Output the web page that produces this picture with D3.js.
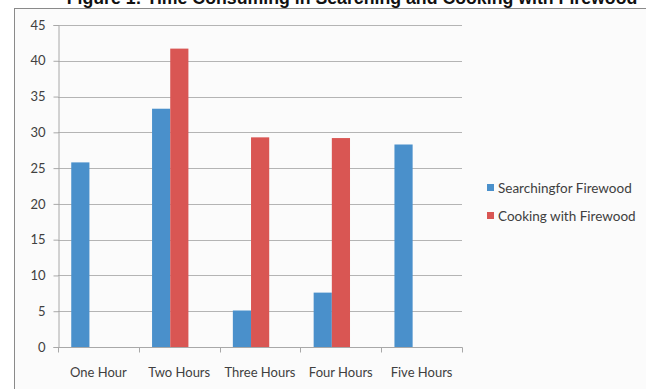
<!DOCTYPE html>
<html>
<head>
<meta charset="utf-8">
<script src="https://cdn.jsdelivr.net/npm/d3@7"></script>
<style>
  html, body { margin: 0; padding: 0; background: #ffffff; }
  svg { display: block; }
</style>
</head>
<body>
<svg id="chart" width="646" height="389"></svg>
<script>
// Hours spent per day on firewood tasks (percent of households)
const categories = ["One Hour", "Two Hours", "Three Hours", "Four Hours", "Five Hours"];
const seriesNames = ["Searchingfor Firewood", "Cooking with Firewood"];
const searching = [25.8, 33.3, 5.1, 7.6, 28.3];
const cooking = [null, 41.7, 29.3, 29.2, null];
const yTicks = [0, 5, 10, 15, 20, 25, 30, 35, 40, 45];
const colors = ["#4a90cb", "#d95653"];

const svg = d3.select("#chart");
const font = "Lato, 'Open Sans', sans-serif";

// chart frame
svg.append("rect")
  .attr("x", 14.5).attr("y", 8.5)
  .attr("width", 700).attr("height", 400)
  .attr("fill", "#fbfbfb")
  .attr("stroke", "#8a8a8a").attr("stroke-width", 1);

// title (sits above the frame, partly off the top edge)
const title = svg.append("text")
  .attr("x", 352).attr("y", 3.5)
  .attr("text-anchor", "middle")
  .attr("font-family", "'Liberation Sans', Arial, sans-serif")
  .attr("font-weight", "bold")
  .attr("font-size", 15)
  .attr("fill", "#111")
  .text("Figure 1: Time Consuming in Searching and Cooking with Firewood");
const tw = title.node().getComputedTextLength();
title.attr("font-size", 15 * 571 / tw);

const plotL = 58, plotR = 462, plotT = 25, plotB = 347;

const x = d3.scaleBand().domain(categories).range([plotL, plotR]).padding(0);
const y = d3.scaleLinear().domain([0, 45]).range([plotB, plotT]);

// bars are laid out in the left part of each category slot
const slotOffset = x.bandwidth() * 0.164;
const x1 = d3.scaleBand().domain(seriesNames)
  .range([slotOffset, slotOffset + x.bandwidth() * 0.45]).padding(0);

// gridlines
svg.append("g")
  .selectAll("line")
  .data(yTicks.filter(t => t > 0))
  .join("line")
  .attr("x1", plotL).attr("x2", plotR)
  .attr("y1", d => Math.round(y(d)) + 0.5).attr("y2", d => Math.round(y(d)) + 0.5)
  .attr("stroke", "#b4b4b4").attr("stroke-width", 1);

// bars
const data = categories.map((c, i) => ({ c, vals: [searching[i], cooking[i]] }));
const groups = svg.append("g").selectAll("g")
  .data(data).join("g")
  .attr("transform", d => `translate(${x(d.c)},0)`);
groups.selectAll("rect")
  .data(d => d.vals.map((v, j) => ({ v, s: seriesNames[j], j })).filter(e => e.v != null))
  .join("rect")
  .attr("x", e => x1(e.s))
  .attr("width", x1.bandwidth())
  .attr("y", e => y(e.v))
  .attr("height", e => y(0) - y(e.v))
  .attr("fill", e => colors[e.j]);

// y axis
const yAxis = d3.axisLeft(y).tickValues(yTicks).tickSize(5).tickPadding(8);
const gy = svg.append("g").attr("transform", `translate(${plotL + 0.5},0)`).call(yAxis);
gy.select(".domain").attr("stroke", "#a8a8a8");
gy.selectAll(".tick line").attr("stroke", "#a8a8a8");
gy.selectAll(".tick text")
  .attr("font-family", font).attr("font-size", 13).attr("fill", "#404040");

// x axis with ticks at slot boundaries
const gx = svg.append("g").attr("transform", `translate(0,${plotB + 0.5})`);
gx.append("line").attr("x1", plotL).attr("x2", plotR + 0.5)
  .attr("stroke", "#a8a8a8");
const bounds = categories.map(c => x(c)).concat([plotR]);
gx.selectAll("line.tk").data(bounds).join("line").attr("class", "tk")
  .attr("x1", d => Math.round(d) + 0.5).attr("x2", d => Math.round(d) + 0.5)
  .attr("y1", 0).attr("y2", 5)
  .attr("stroke", "#a8a8a8");
gx.selectAll("text").data(categories).join("text")
  .attr("x", d => x(d) + x.bandwidth() / 2)
  .attr("y", 29.5)
  .attr("text-anchor", "middle")
  .attr("font-family", font).attr("font-size", 13).attr("fill", "#404040")
  .text(d => d);

// legend
const legend = svg.append("g").attr("transform", "translate(487,183)");
const li = legend.selectAll("g").data(seriesNames).join("g")
  .attr("transform", (d, i) => `translate(0,${i * 28})`);
li.append("rect").attr("width", 7).attr("height", 7).attr("y", 1)
  .attr("fill", (d, i) => colors[i]);
li.append("text").attr("x", 11).attr("y", 10)
  .attr("font-family", font).attr("font-size", 13.5).attr("fill", "#404040")
  .text(d => d);
</script>
</body>
</html>
